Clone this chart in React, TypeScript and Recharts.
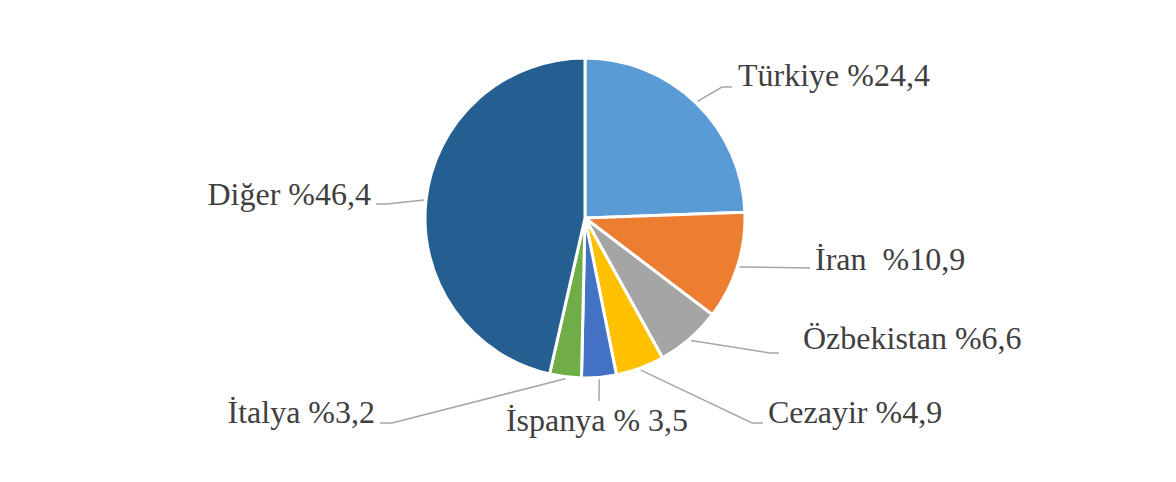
import React from "react";
import { PieChart, Pie, Cell } from "recharts";

const countries = ["Türkiye", "İran", "Özbekistan", "Cezayir", "İspanya", "İtalya", "Diğer"];
const shares = [24.4, 10.9, 6.6, 4.9, 3.5, 3.2, 46.4];
const labelTexts = ["Türkiye %24,4", "İran  %10,9", "Özbekistan %6,6", "Cezayir %4,9", "İspanya % 3,5", "İtalya %3,2", "Diğer %46,4"];

const colors = ["#5B9BD5", "#ED7D31", "#A5A5A5", "#FFC000", "#4472C4", "#70AD47", "#255E91"];

// label placement relative to pie centre: elbow, line end, text anchor point
const labelLayout = [
  { elbow: [137, -131], end: [147, -131], text: [153, -132], anchor: "start" },
  { elbow: [225, 50], end: [225, 50], text: [230, 52], anchor: "start" },
  { elbow: [185, 135], end: [194, 135], text: [218, 131], anchor: "start" },
  { elbow: [167, 205], end: [178, 205], text: [183, 205], anchor: "start" },
  { elbow: [14, 183], end: [14, 183], text: [12, 213], anchor: "middle" },
  { elbow: [-193, 205], end: [-205, 205], text: [-210, 205], anchor: "end" },
  { elbow: [-198, -14], end: [-209, -14], text: [-214, -13], anchor: "end" },
];

const data = countries.map((name, i) => ({ name, value: shares[i] }));

const RAD = Math.PI / 180;

function renderLabel(props: any) {
  const { cx, cy, midAngle, outerRadius, index } = props;
  const lay = labelLayout[index];
  const r = outerRadius + 2;
  const sx = cx + r * Math.cos(-midAngle * RAD);
  const sy = cy + r * Math.sin(-midAngle * RAD);
  const pts = `${sx},${sy} ${cx + lay.elbow[0]},${cy + lay.elbow[1]} ${cx + lay.end[0]},${cy + lay.end[1]}`;
  return (
    <g key={`lbl-${index}`}>
      <polyline points={pts} fill="none" stroke="#A6A6A6" strokeWidth={1.5} />
      <text
        x={cx + lay.text[0]}
        y={cy + lay.text[1]}
        textAnchor={lay.anchor as any}
        fill="#404040"
        fontFamily="'Liberation Serif', 'Times New Roman', serif"
        fontSize={32}
        style={{ whiteSpace: "pre" }}
      >
        {labelTexts[index]}
      </text>
    </g>
  );
}

export default function App() {
  return (
    <div style={{ marginLeft: -8, marginTop: -8, width: 1176, height: 482, position: "relative", background: "#fff" }}>
      <PieChart width={1176} height={482} margin={{ top: 0, right: 0, bottom: 0, left: 0 }}>
        <Pie
          data={data}
          dataKey="value"
          nameKey="name"
          cx={585}
          cy={218}
          outerRadius={160}
          startAngle={90}
          endAngle={-270}
          stroke="#fff"
          strokeWidth={3}
          label={renderLabel}
          labelLine={false}
          isAnimationActive={false}
        >
          {data.map((d, i) => (
            <Cell key={d.name} fill={colors[i]} />
          ))}
        </Pie>
      </PieChart>
      {/* chart frame, open at the bottom like the original */}
      <svg width={1176} height={482} style={{ position: "absolute", left: 0, top: 0, pointerEvents: "none" }}>
        <path d="M4,490 L4,5 L1173,5 L1173,490" fill="none" stroke="#333" strokeWidth={2} />
      </svg>
    </div>
  );
}
